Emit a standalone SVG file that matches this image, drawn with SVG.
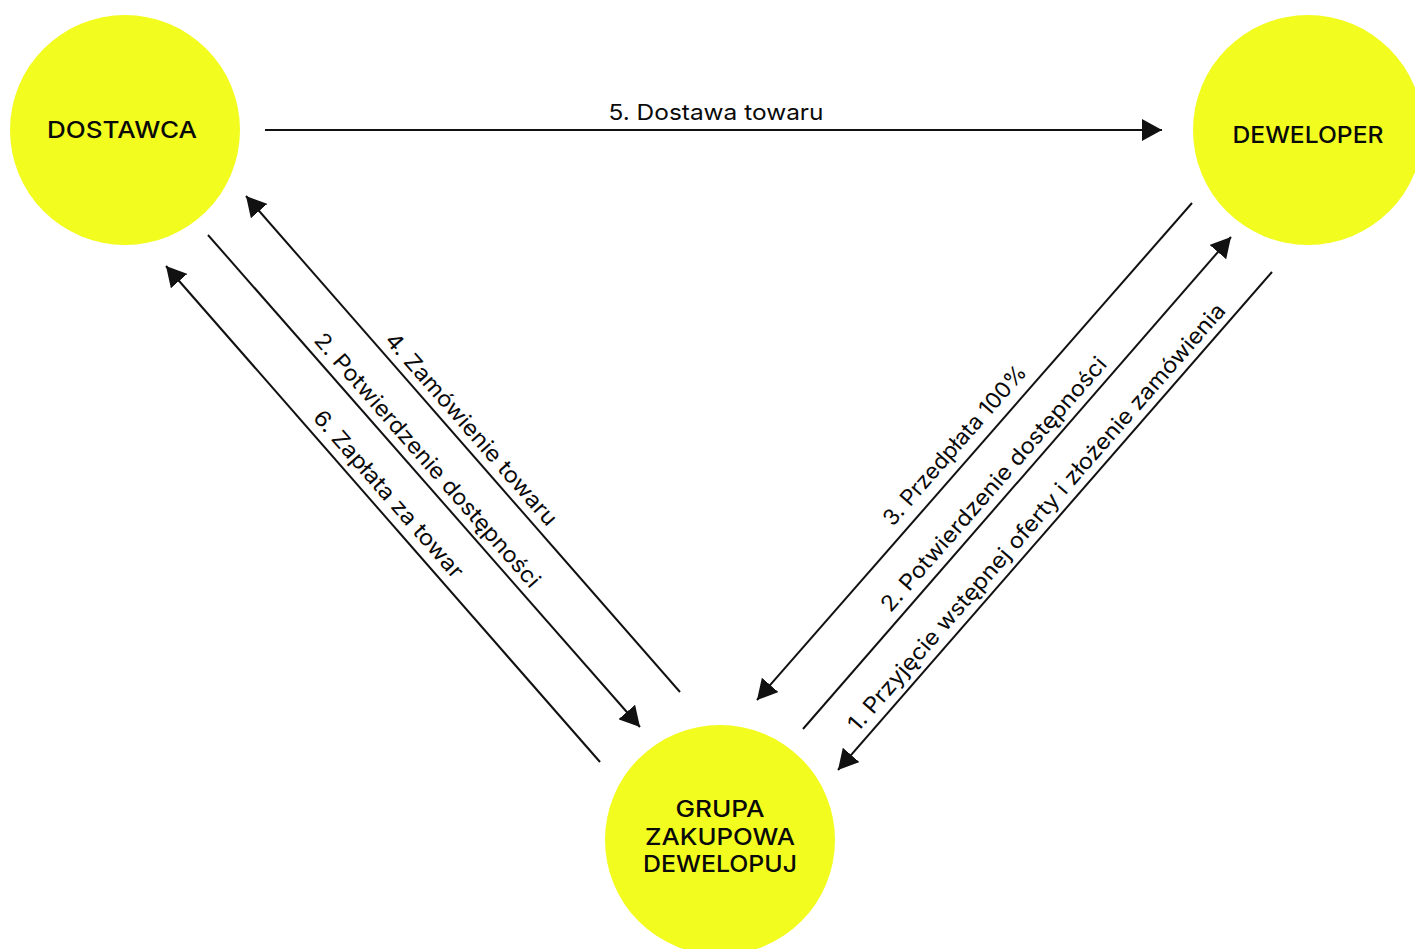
<svg xmlns="http://www.w3.org/2000/svg" width="1415" height="949" viewBox="0 0 1415 949">
<defs>
<style>
.node{fill:#f2fd1f;}
.nlabel{font-family:"Inter","Liberation Sans",sans-serif;font-weight:500;font-size:23px;fill:#0a0a0a;text-anchor:middle;}
.elabel{font-family:"Inter","Liberation Sans",sans-serif;font-weight:400;font-size:22px;fill:#0a0a0a;text-anchor:middle;}
.conn{stroke:#111;stroke-width:2;fill:none;marker-end:url(#arr);}
</style>
<marker id="arr" markerUnits="userSpaceOnUse" markerWidth="20" markerHeight="22" refX="20" refY="11" orient="auto" viewBox="0 0 20 22">
<path d="M0,0 L20,11 L0,22 z" fill="#111"/>
</marker>
</defs>
<rect width="1415" height="949" fill="#ffffff"/>
<g id="node-dostawca">
<circle class="node" cx="125" cy="130" r="115"/>
<text class="nlabel" x="122" y="138" textLength="150" lengthAdjust="spacingAndGlyphs">DOSTAWCA</text>
</g>
<g id="node-deweloper">
<circle class="node" cx="1308" cy="130" r="115"/>
<text class="nlabel" x="1308" y="143" textLength="151" lengthAdjust="spacingAndGlyphs">DEWELOPER</text>
</g>
<g id="node-grupa">
<circle class="node" cx="720" cy="840" r="115"/>
<text class="nlabel" x="720" y="817" textLength="89" lengthAdjust="spacingAndGlyphs">GRUPA</text>
<text class="nlabel" x="720" y="845" textLength="150" lengthAdjust="spacingAndGlyphs">ZAKUPOWA</text>
<text class="nlabel" x="720" y="872" textLength="154" lengthAdjust="spacingAndGlyphs">DEWELOPUJ</text>
</g>
<g id="connectors">
<line class="conn" x1="265" y1="130" x2="1162" y2="130"/>
<line class="conn" x1="680" y1="692" x2="246" y2="196"/>
<line class="conn" x1="208" y1="235" x2="640" y2="727"/>
<line class="conn" x1="600" y1="762" x2="166" y2="266"/>
<line class="conn" x1="1192" y1="203" x2="757" y2="700"/>
<line class="conn" x1="803" y1="729" x2="1231" y2="237"/>
<line class="conn" x1="1272" y1="272" x2="838" y2="770"/>
</g>
<g id="labels">
<text class="elabel" x="716" y="120" textLength="215" lengthAdjust="spacingAndGlyphs">5. Dostawa towaru</text>
<text class="elabel" transform="translate(459,440) rotate(48.8)" x="0" y="-9" textLength="248" lengthAdjust="spacingAndGlyphs">4. Zamówienie towaru</text>
<text class="elabel" transform="translate(415,471) rotate(48.8)" x="0" y="-9" textLength="330" lengthAdjust="spacingAndGlyphs">2. Potwierdzenie dostępności</text>
<text class="elabel" transform="translate(376,505) rotate(48.8)" x="0" y="-9" textLength="215" lengthAdjust="spacingAndGlyphs">6. Zapłata za towar</text>
<text class="elabel" transform="translate(967,456) rotate(-48.8)" x="0" y="-9" textLength="205" lengthAdjust="spacingAndGlyphs">3. Przedpłata 100%</text>
<text class="elabel" transform="translate(1006,495) rotate(-48.8)" x="0" y="-9" textLength="330" lengthAdjust="spacingAndGlyphs">2. Potwierdzenie dostępności</text>
<text class="elabel" transform="translate(1049,528) rotate(-48.8)" x="0" y="-9" textLength="560" lengthAdjust="spacingAndGlyphs">1. Przyjęcie wstępnej oferty i złożenie zamówienia</text>
</g>
</svg>
